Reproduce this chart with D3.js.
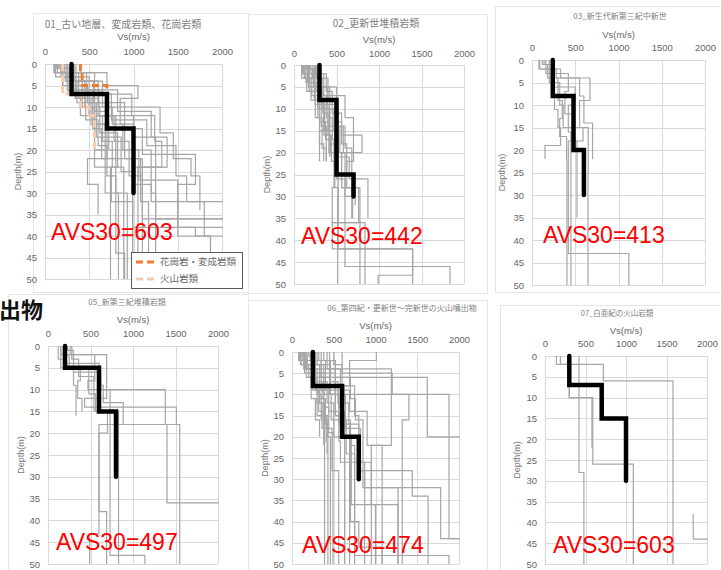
<!DOCTYPE html>
<html><head><meta charset="utf-8">
<script src="https://cdn.jsdelivr.net/npm/d3@7"></script>
<style>
html,body{margin:0;padding:0;background:#fff;}
svg{display:block;font-family:"Liberation Sans","Noto Sans CJK JP",sans-serif;}
</style></head>
<body>
<svg id="chart" width="721" height="570"></svg>
<script>
// ---------------- DATA ----------------
const xTicks = [0, 500, 1000, 1500, 2000];
const yTicks = [0, 5, 10, 15, 20, 25, 30, 35, 40, 45, 50];
const titles = ["01_古い地層、変成岩類、花崗岩類", "02_更新世堆積岩類", "03_新生代新第三紀中新世",
                "05_新第三紀堆積岩類", "06_第四紀・更新世〜完新世の火山噴出物", "07_白亜紀の火山岩類"];
const avs30 = [603, 442, 413, 497, 474, 603];
const legendLabels = ["花崗岩・変成岩類", "火山岩類"];

// profile format: [[topDepth, Vs], ..., [bottomDepth]]
const rep01 = [[0,300],[7,700],[15,1000],[30]];
const rep02 = [[0,300],[8,500],[25,700],[30]];
const rep03 = [[0,240],[8,480],[20,600],[30]];
const rep05 = [[0,200],[5,600],[15,800],[30]];
const rep06 = [[0,250],[8,600],[20,800],[30]];
const rep07 = [[0,300],[7,700],[15,1000],[30]];

const granite01 = [[0,400],[2,420],[5,700],[10]];
const volcanic01 = [[0,200],[7,400],[10,500],[12,560],[20]];

const grey01 = [
  [[0,100],[2,250],[6,500],[12,800],[20,1000],[28,1200],[32,2500],[50]],
  [[0,150],[1,300],[4,550],[9,700],[15,900],[22,1100],[50]],
  [[0,200],[3,350],[6,650],[10,1300],[16,1450],[22,1650],[26,1750],[34]],
  [[0,300],[2,700],[5,1050],[8,850],[14,1000],[20,1200],[30,1250],[50]],
  [[0,250],[4,450],[8,600],[12,780],[18,950],[26,1100],[36,2200],[50]],
  [[0,180],[2,420],[6,560],[11,700],[17,860],[25,990],[38,1700],[40,2200],[50]],
  [[0,350],[3,500],[7,750],[13,1150],[19,1480],[26,1600],[32,1800],[40,1870],[45]],
  [[0,120],[3,300],[5,450],[10,620],[16,820],[24,740],[50]],
  [[0,220],[2,380],[5,480],[9,560],[14,720],[20,800],[30,830],[50]],
  [[0,160],[1,200],[5,350],[8,500],[12,650],[18,760],[24,890],[50]],
  [[0,300],[4,600],[9,900],[15,1100],[21,1700],[28,1500],[40,1870],[45]],
  [[0,140],[2,260],[7,400],[12,560],[20,680],[30,930],[50]],
  [[0,400],[2,560],[6,820],[11,1200],[17,1380],[24,1050],[50]],
  [[0,200],[5,420],[10,540],[15,640],[22,1080],[32,1170],[50]],
  [[0,260],[3,340],[8,460],[13,600],[19,700],[26,800],[44,900],[50]],
  [[0,110],[2,230],[4,360],[9,580],[17,700],[22,480],[28,600],[35]],
  [[0,330],[4,650],[7,980],[12,1240],[18,1320],[24,990],[50]],
  [[0,180],[3,310],[6,540],[12,1000],[17,1250],[36,2400],[50]],
  [[0,240],[2,470],[6,610],[10,760],[14,880],[20,1060],[27,1500],[38,2100],[50]],
  [[0,130],[1,280],[3,380],[8,520],[14,680],[20,560],[24,750],[32,990],[46,1100],[48]]
];

const grey02 = [
  [[0,100],[2,180],[6,250],[12,300],[18,350],[22]],
  [[0,120],[3,200],[8,320],[14,380],[22]],
  [[0,150],[1,230],[5,420],[9,500],[13,560],[18,620],[24]],
  [[0,180],[4,280],[10,350],[16,430],[20]],
  [[0,200],[2,350],[7,600],[12,700],[16,800],[20,560],[28,680],[35]],
  [[0,260],[3,400],[8,480],[14,540],[20,600],[30,690],[35]],
  [[0,300],[5,500],[10,460],[15,520],[21,650],[26,870],[35]],
  [[0,140],[4,250],[9,400],[15,300],[22]],
  [[0,220],[3,300],[7,380],[12,450],[17,470],[28,450],[36,835],[50]],
  [[0,110],[2,170],[5,330],[10,420],[18,480],[28,520],[42,1396],[48,990],[50]],
  [[0,130],[3,240],[8,350],[13,410],[20,500],[26,600],[46,1835],[50]],
  [[0,250],[2,380],[6,450],[11,560],[16,700],[22,620],[28,776],[50]],
  [[0,160],[4,300],[9,360],[15,480],[22]],
  [[0,190],[1,260],[6,340],[11,400],[16,440],[22,520],[30,514],[50]],
  [[0,90],[3,150],[6,280],[12,330],[19,380],[22]],
  [[0,270],[3,330],[9,420],[14,600],[19,680],[25,720],[32]],
  [[0,170],[2,210],[7,300],[13,370],[17,420],[21]],
  [[0,240],[5,390],[10,520],[14,580],[20,560],[28,760],[36,450],[42,1396],[50]]
];

const grey03 = [
  [[0,80],[2,200],[5,260],[11,300],[15,330],[19,150],[22]],
  [[0,120],[1,180],[4,300],[9,350],[13,320],[17,400],[22,404],[50]],
  [[0,160],[3,250],[6,500],[10,420],[16,450],[50]],
  [[0,200],[2,280],[4,550],[8,600],[14,700],[22]],
  [[0,90],[2,330],[4,670],[9,550],[15,650],[25,647],[50]],
  [[0,250],[3,420],[7,380],[12,480],[18,520],[35]],
  [[0,140],[1,240],[5,320],[10,360],[15,590],[18,420],[43,1120],[50]]
];

const grey05 = [
  [[0,150],[2,250],[5,300],[9,330],[16]],
  [[0,120],[3,200],[5,380],[8,350],[12,400],[15]],
  [[0,180],[2,550],[8,470],[10,1380],[18,1550],[50]],
  [[0,260],[2,690],[12,430],[14,1510],[18,600],[38,690],[50]],
  [[0,200],[4,600],[9,650],[13,885],[18,1400],[36,2500],[50]],
  [[0,230],[1,300],[6,620],[10,730],[48,1140],[50]],
  [[0,150],[5,480],[11,560],[15,830],[50]],
  [[0,280],[3,360],[7,540],[15,700],[20,600],[43,490],[50]]
];

const grey06 = [
  [[0,80],[2,150],[5,250],[9,320],[14,380],[22]],
  [[0,100],[3,200],[6,300],[10,350],[16,420],[20]],
  [[0,120],[1,180],[4,260],[8,300],[12,360],[18,390],[50]],
  [[0,150],[2,240],[7,330],[11,400],[17,430],[50]],
  [[0,170],[4,280],[9,380],[13,440],[19,490],[50]],
  [[0,1010],[2,690],[8,600],[14,630],[50]],
  [[0,250],[4,1190],[22,950],[50]],
  [[0,350],[6,1620],[20,2100],[50]],
  [[0,450],[10,1880],[44,2200],[50]],
  [[0,500],[3,600],[8,750],[15,800],[28,1440],[34,1630],[50]],
  [[0,180],[3,330],[7,420],[12,500],[20,710],[36,1270],[50]],
  [[0,220],[2,350],[6,460],[10,520],[15,630],[50]],
  [[0,260],[5,400],[9,560],[13,600],[18,690],[50]],
  [[0,130],[2,260],[6,380],[10,470],[16,650],[24,750],[50]],
  [[0,300],[3,450],[8,620],[12,680],[17,800],[28,870],[50]],
  [[0,160],[4,300],[8,440],[14,560],[21,580],[26,870],[32,1270],[50]],
  [[0,380],[2,520],[6,700],[11,760],[16,850],[32,1780],[44,2200],[50]],
  [[0,200],[1,280],[5,350],[9,380],[15,430],[20,460],[50]],
  [[0,90],[2,170],[6,230],[11,280],[16,330],[20]],
  [[0,420],[4,580],[9,690],[14,900],[22,1080],[50]],
  [[0,110],[3,240],[7,360],[11,300],[15,410],[21,420],[24]],
  [[0,280],[2,400],[5,520],[10,640],[18,820],[26,950],[36,1000],[50]],
  [[0,600],[5,1200],[10,1400],[16,1320],[50]],
  [[0,140],[4,250],[8,330],[12,390],[18,480],[28,560],[50]],
  [[0,320],[2,460],[7,550],[12,590],[16,700],[40,800],[46,1080],[50]],
  [[0,240],[3,380],[10,560],[17,690],[22,750],[48,1880],[50]]
];

const grey07 = [
  [[0,140],[2,720],[6,1580],[50]],
  [[0,190],[2,300],[10,580],[22]],
  [[0,420],[28,480],[50]],
  [[0,300],[10,590],[26,1090],[50]],
  [[38,1830],[44,2300],[50]]
];

const greyList = [grey01, grey02, grey03, grey05, grey06, grey07];
const repList = [rep01, rep02, rep03, rep05, rep06, rep07];

// ---------------- LAYOUT ----------------
const layout = [
  {x0:45, x1:222, y0:64, y1:279, titleX:123, titleY:28, tSize:10, vsY:40, tickY:55, depX:18, avsX:51, avsY:240, frame:[33,13,215,279]},
  {x0:294, x1:464, y0:65, y1:284, titleX:376, titleY:27, tSize:10, vsY:43, tickY:57, depX:267, avsX:301, avsY:244, frame:[248,14,239,279]},
  {x0:532, x1:705, y0:60, y1:285, titleX:620, titleY:19, tSize:8, vsY:38, tickY:51, depX:502, avsX:543, avsY:243, frame:[495,6,226,286]},
  {x0:48, x1:218, y0:346, y1:564, titleX:127, titleY:305, tSize:8, vsY:323, tickY:337, depX:21, avsX:56, avsY:550, frame:[8,294,240,276]},
  {x0:292, x1:459, y0:352, y1:564, titleX:402, titleY:311, tSize:8, vsY:329, tickY:343, depX:265, avsX:302, avsY:553, frame:[248,300,239,270]},
  {x0:545, x1:707, y0:356, y1:564, titleX:617, titleY:316, tSize:7.5, vsY:334, tickY:347, depX:517, avsX:553, avsY:553, frame:[500,305,221,265]}
];

const svg = d3.select("#chart");
const defs = svg.append("defs");

function stepPoints(p){
  const pts = [];
  for(let i=0;i<p.length-1;i++){
    pts.push([p[i][1], p[i][0]]);
    pts.push([p[i][1], p[i+1][0]]);
  }
  return pts;
}

layout.forEach((L, i) => {
  const g = svg.append("g");
  g.append("rect").attr("x", L.frame[0]+0.5).attr("y", L.frame[1]+0.5)
    .attr("width", L.frame[2]).attr("height", L.frame[3])
    .attr("fill", "#fff").attr("stroke", "#e6e6e6").attr("stroke-width", 1);

  const x = d3.scaleLinear().domain([0, 2000]).range([L.x0, L.x1]);
  const y = d3.scaleLinear().domain([0, 50]).range([L.y0, L.y1]);

  g.append("g").selectAll("line").data(xTicks).join("line")
    .attr("x1", d => Math.round(x(d))+0.5).attr("x2", d => Math.round(x(d))+0.5)
    .attr("y1", L.y0).attr("y2", L.y1).attr("stroke", "#d9d9d9").attr("stroke-width", 1);
  g.append("g").selectAll("line").data(yTicks).join("line")
    .attr("y1", d => Math.round(y(d))+0.5).attr("y2", d => Math.round(y(d))+0.5)
    .attr("x1", L.x0).attr("x2", L.x1).attr("stroke", "#d9d9d9").attr("stroke-width", 1);

  const xa = d3.axisTop(x).tickValues(xTicks).tickFormat(d3.format("d")).tickSize(0).tickPadding(0);
  const xg = g.append("g").attr("transform", `translate(0,${L.tickY})`).call(xa);
  xg.select(".domain").remove();
  xg.selectAll("text").attr("fill", "#666").attr("font-size", 9.5).attr("dy", 0);

  const ya = d3.axisLeft(y).tickValues(yTicks).tickFormat(d3.format("d")).tickSize(0).tickPadding(8);
  const yg = g.append("g").attr("transform", `translate(${L.x0},0)`).call(ya);
  yg.select(".domain").remove();
  yg.selectAll("text").attr("fill", "#666").attr("font-size", 9.5);

  g.append("text").attr("x", L.titleX).attr("y", L.titleY).attr("text-anchor", "middle")
    .attr("font-size", L.tSize).attr("fill", "#808080")
    .attr("font-family", "'Noto Sans CJK JP', sans-serif").text(titles[i]);
  g.append("text").attr("x", (L.x0+L.x1)/2).attr("y", L.vsY).attr("text-anchor", "middle")
    .attr("font-size", 9.5).attr("fill", "#666").text("Vs(m/s)");
  g.append("text").attr("transform", `translate(${L.depX},${(L.y0+L.y1)/2}) rotate(-90)`)
    .attr("text-anchor", "middle").attr("dy", "0.35em")
    .attr("font-size", 9).attr("fill", "#777").text("Depth(m)");

  const cid = "clip" + i;
  defs.append("clipPath").attr("id", cid).append("rect")
    .attr("x", L.x0).attr("y", L.y0 - 3).attr("width", L.x1 - L.x0 + 1).attr("height", L.y1 - L.y0 + 4);
  const plot = g.append("g").attr("clip-path", `url(#${cid})`);

  const line = d3.line().x(d => x(d[0])).y(d => y(d[1]));
  plot.selectAll("path").data(greyList[i]).join("path")
    .attr("d", p => line(stepPoints(p)))
    .attr("fill", "none").attr("stroke", "#a6a6a6").attr("stroke-width", 1.2);

  if(i === 0){
    plot.append("path").attr("d", line(stepPoints(volcanic01)))
      .attr("fill", "none").attr("stroke", "#f8cbad").attr("stroke-width", 3).attr("stroke-dasharray", "7,4");
    plot.append("path").attr("d", line(stepPoints(granite01)))
      .attr("fill", "none").attr("stroke", "#ed7d31").attr("stroke-width", 3).attr("stroke-dasharray", "7,4");
  }

  g.append("path").attr("d", line(stepPoints(repList[i])))
    .attr("fill", "none").attr("stroke", "#000").attr("stroke-width", 4.5).attr("stroke-linecap", "round");

  g.append("text").attr("x", L.avsX).attr("y", L.avsY).attr("font-size", 23)
    .attr("fill", "#ff0000").attr("font-family", "'Liberation Sans', Arial, sans-serif")
    .text("AVS30=" + avs30[i]);

  if(i === 0){
    const lg = svg.append("g");
    lg.append("rect").attr("x", 131.5).attr("y", 252.5).attr("width", 111).attr("height", 36)
      .attr("fill", "#fff").attr("stroke", "#595959").attr("stroke-width", 1);
    const cols = ["#ed7d31", "#f8cbad"];
    const ys = [262, 279];
    legendLabels.forEach((lab, k) => {
      lg.append("line").attr("x1", 136).attr("x2", 156).attr("y1", ys[k]).attr("y2", ys[k])
        .attr("stroke", cols[k]).attr("stroke-width", 3).attr("stroke-dasharray", "7,4");
      lg.append("text").attr("x", 160).attr("y", ys[k]).attr("dy", "0.35em")
        .attr("font-size", 9.5).attr("fill", "#666")
        .attr("font-family", "'Noto Sans CJK JP', sans-serif").text(lab);
    });
  }
});

svg.append("text").attr("x", -1).attr("y", 318).attr("font-size", 22).attr("font-weight", "bold")
  .attr("fill", "#111").attr("font-family", "'Noto Sans CJK JP', sans-serif").text("出物");
</script>
</body></html>
